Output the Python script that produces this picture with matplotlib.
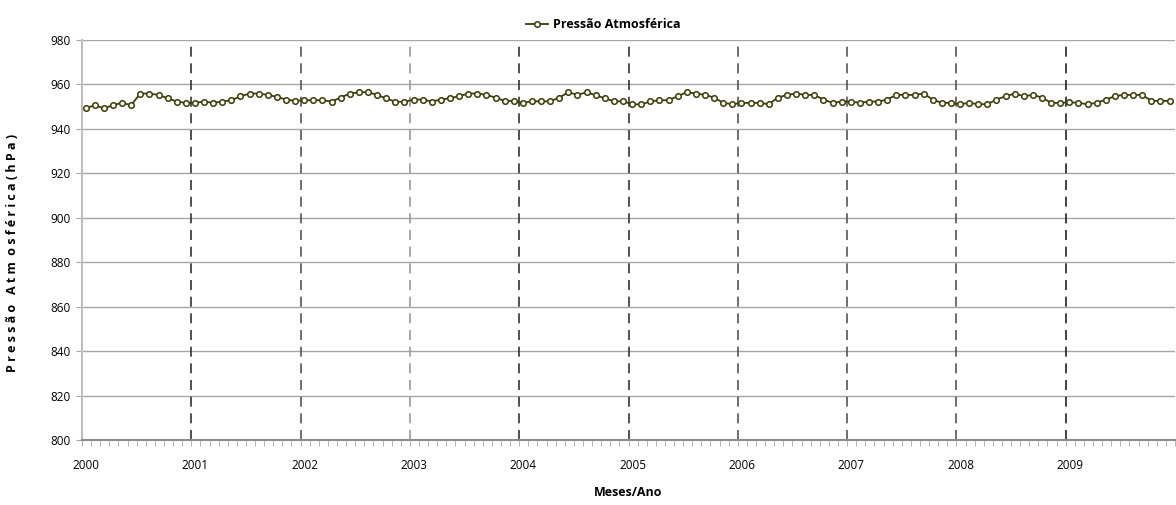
import matplotlib
matplotlib.use("Agg")
import matplotlib.pyplot as plt
import numpy as np
from matplotlib.ticker import FixedLocator, MultipleLocator

plt.rcParams["font.family"] = ["Open Sans", "DejaVu Sans"]

YEARS = [2000, 2001, 2002, 2003, 2004, 2005, 2006, 2007, 2008, 2009]

# monthly mean pressure (hPa), one list per year
P_2000 = [949.2, 950.7, 949.2, 950.7, 951.7, 950.7, 955.9, 955.9, 955.3, 953.8, 952.3, 951.7]
P_2001 = [951.7, 952.3, 951.7, 952.3, 952.9, 954.7, 955.9, 955.9, 955.3, 954.4, 953.2, 952.6]
P_2002 = [952.9, 952.9, 952.9, 952.3, 954.1, 955.9, 956.5, 956.5, 955.3, 953.7, 952.2, 952.2]
P_2003 = [953.2, 953.2, 952.3, 953.2, 953.8, 954.7, 955.9, 955.9, 955.3, 954.1, 952.6, 952.6]
P_2004 = [951.7, 952.4, 952.4, 952.4, 954.1, 956.5, 955.3, 956.5, 955.1, 953.8, 952.4, 952.4]
P_2005 = [951.1, 951.0, 952.4, 952.9, 952.9, 954.7, 956.5, 955.9, 955.3, 954.1, 951.7, 951.1]
P_2006 = [951.7, 951.7, 951.7, 951.1, 954.1, 955.3, 955.9, 955.3, 955.3, 953.2, 951.7, 952.3]
P_2007 = [952.3, 951.7, 952.3, 952.3, 953.2, 955.3, 955.3, 955.3, 955.9, 953.2, 951.7, 951.7]
P_2008 = [951.1, 951.7, 951.1, 951.1, 953.2, 954.7, 955.9, 954.7, 955.3, 954.1, 951.7, 951.7]
P_2009 = [952.0, 951.7, 951.1, 951.7, 953.2, 954.7, 955.3, 955.3, 955.3, 952.6, 952.6, 952.6]

YEAR_LINE_COLORS = ["#333333", "#555555", "#9a9a9a", "#333333", "#333333",
                    "#555555", "#555555", "#555555", "#222222"]


def main():
    pressure = np.array(P_2000 + P_2001 + P_2002 + P_2003 + P_2004
                        + P_2005 + P_2006 + P_2007 + P_2008 + P_2009)
    months = np.arange(len(pressure)) + 0.4

    fig = plt.figure(figsize=(11.76, 5.05), dpi=100)
    ax = fig.add_axes([82 / 1176, 65 / 505, 1093 / 1176, 400 / 505])

    ax.set_ylim(800, 980)
    ax.set_xlim(0, 120)
    ax.yaxis.set_major_locator(MultipleLocator(20))
    ax.grid(axis="y", color="#a6a6a6", linewidth=1.0)
    ax.set_axisbelow(True)

    for i, year in enumerate(YEARS[1:]):
        ax.axvline((year - YEARS[0]) * 12, color=YEAR_LINE_COLORS[i],
                   linestyle=(0, (6, 4)), linewidth=1.2, zorder=1)

    ax.plot(months, pressure, color="#3b3b0c", linewidth=1.3, marker="o",
            markersize=4.0, markerfacecolor="#fffff0", markeredgecolor="#3b3b0c",
            markeredgewidth=1.1, label="Pressão Atmosférica", zorder=3)

    # year labels sit a little right of the year boundary, as in the original
    ax.xaxis.set_major_locator(FixedLocator([(y - YEARS[0]) * 12 + 0.45 for y in YEARS]))
    ax.set_xticklabels([str(y) for y in YEARS])
    ax.xaxis.set_minor_locator(MultipleLocator(1))
    ax.tick_params(axis="x", which="major", length=0, pad=14, labelsize=8.5)
    ax.tick_params(axis="x", which="minor", length=4, color="#a6a6a6")
    ax.tick_params(axis="y", length=4, color="#a6a6a6", labelsize=8.5, pad=4)

    for side in ["top", "right"]:
        ax.spines[side].set_visible(False)
    ax.spines["left"].set_color("#bfbfbf")
    ax.spines["left"].set_linewidth(1.5)
    ax.spines["bottom"].set_color("#8c8c8c")
    ax.spines["bottom"].set_linewidth(1.5)

    ax.set_xlabel("Meses/Ano", fontsize=9, fontweight="bold", labelpad=10)
    fig.text(0.011, 0.5, "P r e s s ã o   A t m  o s f é r i c a ( h P a )",
             rotation=90, ha="center", va="center", fontsize=9,
             fontweight="bold")

    ax.legend(loc="lower center", bbox_to_anchor=(0.477, 1.0), frameon=False,
              prop={"weight": "bold", "size": 9},
              handlelength=1.8, handletextpad=0.4, borderaxespad=0.3)

    fig.savefig("out.png", dpi=100)
    plt.close(fig)


if __name__ == "__main__":
    main()
